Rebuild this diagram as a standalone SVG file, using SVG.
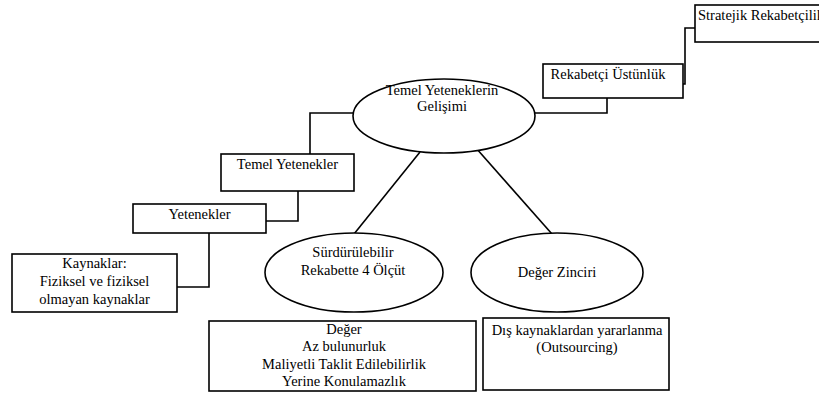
<svg xmlns="http://www.w3.org/2000/svg" width="819" height="394" viewBox="0 0 819 394">
<style>
.b{fill:#fff;stroke:#000;stroke-width:1.6}
.e{fill:#fff;stroke:#000;stroke-width:1.6}
.c{fill:none;stroke:#000;stroke-width:1.6}
.t text{font-size:14.5px;fill:#000;text-anchor:middle}
</style>
<rect width="819" height="394" fill="#fff"/>
<g id="connectors">
<polyline class="c" points="177,287 209,287 209,233"/>
<polyline class="c" points="266,221 298,221 298,191"/>
<polyline class="c" points="310,154 310,113 353,113"/>
<polyline class="c" points="535,113 607,113 607,98"/>
<polyline class="c" points="683,84 685,84 685,28 695,28"/>
<line class="c" x1="420" y1="152" x2="354" y2="234"/>
<line class="c" x1="476" y1="148" x2="552" y2="234"/>
</g>
<g class="t" font-family="Liberation Serif, Times New Roman, serif">
<g id="kaynaklar">
<rect class="b" x="12" y="254" width="165" height="58"/>
<text x="94.5" y="268">Kaynaklar:</text>
<text x="94.5" y="286">Fiziksel ve fiziksel</text>
<text x="94.5" y="304">olmayan kaynaklar</text>
</g>
<g id="yetenekler">
<rect class="b" x="133" y="204" width="133" height="29"/>
<text x="199.5" y="219">Yetenekler</text>
</g>
<g id="temel-yetenekler">
<rect class="b" x="221" y="154" width="133" height="37"/>
<text x="287.5" y="169">Temel Yetenekler</text>
</g>
<g id="temel-yeteneklerin-gelisimi">
<ellipse class="e" cx="444" cy="116" rx="91" ry="37"/>
<text x="442" y="95">Temel Yeteneklerin</text>
<text x="442" y="111">Gelişimi</text>
</g>
<g id="rekabetci-ustunluk">
<rect class="b" x="543" y="64" width="140" height="34"/>
<text x="608" y="79">Rekabetçi Üstünlük</text>
</g>
<g id="stratejik-rekabetcilik">
<rect class="b" x="695" y="5" width="140" height="37"/>
<text x="698" y="20" style="text-anchor:start">Stratejik Rekabetçilik</text>
</g>
<g id="surdurulebilir">
<ellipse class="e" cx="354" cy="272.5" rx="89" ry="39.5"/>
<text x="353" y="257">Sürdürülebilir</text>
<text x="353" y="275">Rekabette 4 Ölçüt</text>
</g>
<g id="deger-zinciri">
<ellipse class="e" cx="557" cy="272.5" rx="86" ry="39.5"/>
<text x="557" y="277">Değer Zinciri</text>
</g>
<g id="olcutler">
<rect class="b" x="209" y="321" width="267" height="70"/>
<text x="344" y="334">Değer</text>
<text x="344" y="351">Az bulunurluk</text>
<text x="344" y="369">Maliyetli Taklit Edilebilirlik</text>
<text x="344" y="386">Yerine Konulamazlık</text>
</g>
<g id="outsourcing">
<rect class="b" x="483" y="318" width="186" height="72"/>
<text x="577" y="335">Dış kaynaklardan yararlanma</text>
<text x="577" y="352">(Outsourcing)</text>
</g>
</g>
</svg>
